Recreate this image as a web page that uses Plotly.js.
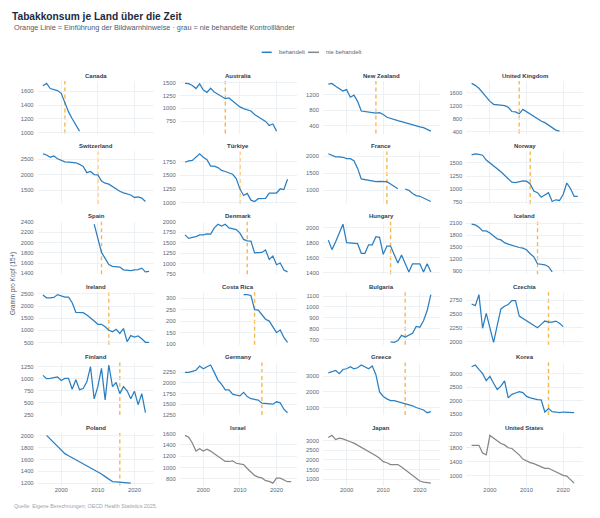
<!DOCTYPE html>
<html><head><meta charset="utf-8">
<script src="https://cdn.plot.ly/plotly-3.0.1.min.js"></script>
<style>html,body{margin:0;padding:0;background:#fff}#chart{width:600px;height:518px}</style>
</head><body><div id="chart"></div>
<script>
const n = null;
const years = [1995,1996,1997,1998,1999,2000,2001,2002,2003,2004,2005,2006,2007,2008,2009,2010,2011,2012,2013,2014,2015,2016,2017,2018,2019,2020,2021,2022,2023,2024];
const countries = ["Canada","Australia","New Zealand","United Kingdom","Switzerland","Türkiye","France","Norway","Spain","Denmark","Hungary","Iceland","Ireland","Costa Rica","Bulgaria","Czechia","Finland","Germany","Greece","Korea","Poland","Israel","Japan","United States"];
const policyYear = [2001,2006,2008,2008,2010,2010,2011,2011,2011,2012,2012,2013,2013,2014,2016,2016,2016,2016,2016,2016,2016,n,n,n];
const groupNames = ["behandelt","nie behandelt"];

const canada = [1680,1715,1640,1630,1610,1570,1430,1300,1200,1110,1020,n,n,n,n,n,n,n,n,n,n,n,n,n,n,n,n,n,n,n];
const australia = [1490,1485,1450,1390,1480,1360,1315,1395,1320,1280,1230,1190,1205,1145,1085,1030,995,980,950,880,830,795,745,665,695,555,n,n,n,n];
const newZealand = [1480,1497,1425,1362,1300,1335,1137,1190,1030,777,760,750,733,724,733,688,615,580,553,526,500,470,445,418,380,363,345,300,255,n];
const unitedKingdom = [1880,1820,1730,1600,1480,1330,1240,1225,1220,1200,1150,1020,1010,950,1085,1010,950,860,790,730,680,610,520,450,420,n,n,n,n,n];
const switzerland = [2670,2630,2560,2600,2510,2470,2410,2400,2400,2380,2330,2260,2060,2100,2000,1990,1790,1720,1690,1610,1520,1460,1410,1370,1340,1260,1280,1240,1130,n];
const turkiye = [1737,1763,1770,1833,1891,1827,1782,1667,1667,1641,1590,1570,1545,1520,1443,1250,1134,1172,1050,1025,1076,1076,1083,1179,1179,1179,1256,1243,1429,n];
const france = [2072,2031,1979,1979,1969,1928,1928,1866,1640,1330,1310,1310,1278,1248,1258,1258,1248,1180,1110,1040,n,1031,990,897,835,815,763,722,660,n];
const norway = [1654,1674,1661,1647,1554,1500,1446,1400,1333,1265,1192,1132,1125,1138,1158,1152,1098,965,933,846,886,933,765,798,785,898,1118,1011,865,865];
const spain = [n,n,n,n,n,n,n,n,n,n,n,n,n,n,2360,2080,1810,1694,1572,1538,1524,1524,1470,1456,1456,1470,1475,1504,1430,1440];
const denmark = [1690,1606,1631,1648,1690,1690,1715,1707,1858,1945,1900,1945,1858,1841,1815,1732,1581,1547,1539,1258,1270,1270,1330,1103,1186,977,1018,851,805,n];
const hungary = [1834,1707,1811,1920,2047,1800,1795,1790,1786,1658,1658,1772,1772,1880,1871,1645,1754,1754,1636,1527,1636,1518,1409,1518,1518,1518,1409,1518,1409,n];
const iceland = [2074,2056,1995,1905,1905,1853,1774,1704,1678,1608,1573,1538,1512,1486,1468,1430,1330,1250,1075,1060,1050,1000,870,n,n,n,n,n,n,n];
const ireland = [2457,2341,2341,2355,2471,2428,2370,2370,2138,1746,1746,1732,1630,1486,1384,1254,1254,1152,1007,949,1051,877,1080,543,790,732,775,659,514,514];
const costaRica = [n,n,n,n,n,n,n,n,n,n,n,n,n,n,n,n,315,315,311,250,248,226,208,200,172,150,162,129,108,n];
const bulgaria = [n,n,n,n,n,n,n,n,n,n,n,n,n,n,n,n,n,677,674,690,738,722,738,758,820,813,872,966,1113,n];
const czechia = [2680,2650,2850,2240,2510,2250,1985,2290,2590,2640,2670,2740,2740,2460,2420,2380,2340,2300,2250,2310,2370,2350,2350,2370,2330,2270,n,n,n,n];
const finland = [1069,1000,1007,1015,1036,964,1007,1007,779,978,772,795,935,1250,580,834,1214,558,1286,834,920,689,834,747,580,740,457,689,290,n];
const germany = [2250,2250,2275,2300,2400,2333,2383,2424,2250,2068,1969,1837,1837,1738,1713,1696,1779,1680,1630,1614,1597,1523,1515,1506,1500,1557,1532,1383,1300,n];
const greece = [3222,3289,3378,3178,3444,3489,3622,3489,3556,3733,3622,3489,3667,3111,2000,1711,1555,1444,1444,1378,1333,1222,1155,1111,1000,911,844,666,733,n];
const korea = [3269,3333,3167,3013,2756,2910,2654,2423,2551,2744,2115,2244,2295,2346,2308,2167,2115,2077,2051,2038,1590,1718,1603,1590,1564,1590,1590,1590,1564,n];
const poland = [n,2010,1945,1880,1820,1760,1700,1665,1630,1595,1565,1535,1500,1465,1430,1395,1355,1310,1265,1225,1220,1215,1210,1205,1200,n,n,n,n,n];
const israel = [1569,1538,1434,1292,1335,1292,1323,1292,1243,1200,1157,1108,1108,1120,1077,1065,1052,985,923,862,831,818,769,757,726,812,812,782,751,751];
const japan = [3164,3273,3055,3127,3091,3000,2945,2873,2764,2673,2582,2455,2327,2218,2091,1909,1855,1764,1764,1764,1636,1491,1309,1182,1055,909,855,836,800,n];
const unitedStates = [1867,1867,1867,1645,1595,2150,2079,1998,1918,1878,1797,1777,1696,1595,1474,1413,1373,1343,1293,1242,1212,1212,1161,1111,1061,1010,990,889,788,n];

const yTickStep = [200,250,400,400,500,250,500,250,200,250,200,300,500,50,100,250,250,250,1000,500,200,200,500,400];
const yTickStart = [0,0,0,0,0,0,0,0,0,0,0,0,0,0,0,0,0,0,0,0,0,0,0,1000];
const xTickVals = [2000,2010,2020];

const series = [canada,australia,newZealand,unitedKingdom,switzerland,turkiye,france,norway,spain,denmark,hungary,iceland,ireland,costaRica,bulgaria,czechia,finland,germany,greece,korea,poland,israel,japan,unitedStates];

const W = 600, H = 518;
const colX0 = [37.6,179.7,323,466.3], panelW = 116.8;
const rowTop0 = 81, rowStep = 70.4, panelH = 52.5;
const BLUE = '#2b7fc1', GREY = '#868686', ORANGE = 'rgba(245,165,36,0.8)';
const FONT = 'Liberation Sans, Arial, Helvetica, sans-serif';

const traces = [], shapes = [], annotations = [];
const layout = {
  width: W, height: H, margin: {l:0,r:0,t:0,b:0},
  paper_bgcolor: '#fff', plot_bgcolor: 'rgba(0,0,0,0)',
  font: {family: FONT, color: '#5b6773'},
  showlegend: false,
  title: {text:'<b>Tabakkonsum je Land über die Zeit</b>', xref:'paper', yref:'paper',
          x:12/W, xanchor:'left', y:1-16/H, yanchor:'middle',
          font:{size:10.2, color:'#1b2a41', family:FONT}}
};

series.forEach((vals, i) => {
  const r = Math.floor(i/4), c = i % 4;
  const k = i + 1, sfx = k === 1 ? '' : String(k);
  const x0 = colX0[c], top = rowTop0 + rowStep*r;
  const valid = vals.filter(v => v !== null);
  const mn = Math.min(...valid), mx = Math.max(...valid), pad = 0.05*(mx-mn);
  const treated = policyYear[i] !== null;
  layout['xaxis'+sfx] = {
    domain:[x0/W, (x0+panelW)/W], anchor:'y'+sfx, range:[1993.55,2025.45],
    tickvals:xTickVals, showticklabels: r === 5, ticks:'', showline:false, zeroline:false,
    showgrid:true, gridcolor:'#eaedf1', gridwidth:0.8,
    tickfont:{size:5.9, color:'#5b6773'}, fixedrange:true
  };
  layout['yaxis'+sfx] = {
    domain:[1-(top+panelH)/H, 1-top/H], anchor:'x'+sfx, range:[mn-pad, mx+pad],
    dtick:yTickStep[i], tick0:yTickStart[i], tickmode:'linear', ticks:'', ticklabelstandoff:3,
    showline:false, zeroline:false, showgrid:true, gridcolor:'#eaedf1', gridwidth:0.8,
    tickfont:{size:5.8, color:'#5b6773'}, fixedrange:true
  };
  traces.push({
    type:'scatter', mode:'lines', x:years, y:vals, xaxis:'x'+sfx, yaxis:'y'+sfx,
    line:{color: treated ? BLUE : GREY, width:1.25}, name: treated ? groupNames[0] : groupNames[1],
    showlegend:false, hoverinfo:'skip', connectgaps:false
  });
  if (treated) {
    shapes.push({type:'line', xref:'x'+sfx, yref:'y'+sfx+' domain', x0:policyYear[i], x1:policyYear[i],
      y0:0, y1:1, layer:'below', line:{color:ORANGE, width:1.4, dash:'4px,3px'}});
  }
  annotations.push({text:'<b>'+countries[i]+'</b>', xref:'paper', yref:'paper',
    x:(x0+panelW/2)/W, y:1-(top-5.5)/H, xanchor:'center', yanchor:'middle', showarrow:false,
    font:{size:6, color:'#2f3d4f', family:FONT}});
});

// legend (manual key: short line + label)
const legendY = 1-52.3/H;
const legendItems = [{x0:261.7, x1:271.7, tx:276.5, color:BLUE, label:groupNames[0]},
                     {x0:308, x1:319, tx:323.5, color:GREY, label:groupNames[1]}];
legendItems.forEach(it => {
  shapes.push({type:'line', xref:'paper', yref:'paper', x0:it.x0/W, x1:it.x1/W, y0:legendY, y1:legendY,
    line:{color:it.color, width:1.5}});
  annotations.push({text:it.label, xref:'paper', yref:'paper', x:it.tx/W, y:legendY, xanchor:'left',
    yanchor:'middle', showarrow:false, font:{size:5.9, color:'#5b6773', family:FONT}});
});

annotations.push({text:'Orange Linie = Einführung der Bildwarnhinweise · grau = nie behandelte Kontrollländer',
  xref:'paper', yref:'paper', x:12/W, y:1-27.5/H, xanchor:'left', yanchor:'middle', showarrow:false,
  font:{size:7.3, color:'#4d5b6a', family:FONT}});
annotations.push({text:'Gramm pro Kopf (15+)', xref:'paper', yref:'paper', x:13/W, y:1-284/H,
  xanchor:'center', yanchor:'middle', textangle:-90, showarrow:false,
  font:{size:6.3, color:'#4d5b6a', family:FONT}});
annotations.push({text:'Quelle: Eigene Berechnungen; OECD Health Statistics 2025.', xref:'paper', yref:'paper',
  x:12/W, y:1-506/H, xanchor:'left', yanchor:'middle', showarrow:false,
  font:{size:5.3, color:'#9aa3ad', family:FONT}});

layout.shapes = shapes;
layout.annotations = annotations;
Plotly.newPlot('chart', traces, layout, {staticPlot:true, displayModeBar:false});
</script>
</body></html>
